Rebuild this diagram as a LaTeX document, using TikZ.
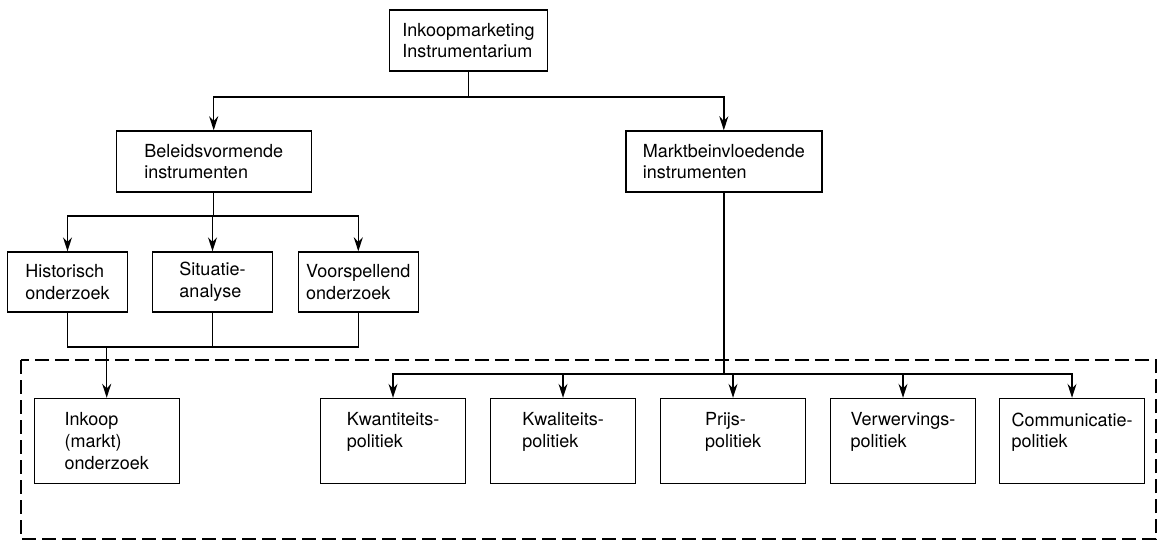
\documentclass[tikz,border=0pt]{standalone}
\usepackage{fontspec}
\setmainfont{TeX Gyre Heros}
\usepackage{tikz}
\usetikzlibrary{arrows.meta, calc, positioning}

\tikzset{
  box/.style={draw, line width=1.4pt, align=left, inner sep=0pt, minimum height=61,
    font=\fontsize{18}{21.7}\selectfont},
  sub/.style={box, minimum width=120, minimum height=60},
  pol/.style={box, minimum width=145, minimum height=85},
  ln/.style={line width=1.4pt},
  arr/.style={line width=1.4pt, -{Stealth[length=14pt,width=9pt]}},
  frame/.style={line width=1.4pt, dash pattern=on 14pt off 6pt}
}

\begin{document}
\begin{tikzpicture}[x=1pt, y=-1pt]
\useasboundingbox (0,0) rectangle (1159,541);
% top of the tree
\node[box, minimum width=158] (top) at (468.5,40.5) {Inkoopmarketing\\Instrumentarium};
\node[box, minimum width=195] (beleid) at (213.7,161.5) {Beleidsvormende\\instrumenten};
\node[box, minimum width=196] (markt) at (723.8,161.5) {Marktbeinvloedende\\instrumenten};
\coordinate (j1) at (468.5,97);
\draw[ln] (top) -- (j1);
\draw[arr] (j1) -| (beleid);
\draw[arr] (j1) -| (markt);
% policy forming instruments
\node[sub, minimum width=120] (hist) at (67.5,282) {Historisch\\onderzoek};
\node[sub] (sit) at (212.5,282) {Situatie-\\analyse};
\node[sub] (voor) at (358.3,282) {Voorspellend\\onderzoek};
\coordinate (j2) at (213.7,216);
\draw[ln] (beleid) -- (j2);
\foreach \n in {hist,sit,voor}
  \draw[arr] (j2) -| (\n);
% dashed frame
\draw[frame] (21,360) rectangle (1156,539);
% market research
\node[pol] (inkoop) at (106.7,441) {Inkoop\\(markt)\\onderzoek};
\coordinate (j3) at (106.7,347);
\draw[ln] (hist.south) |- (j3) -| (voor.south);
\draw[ln] (sit.south) -- (sit.south |- j3);
\draw[arr] (j3) -- (inkoop);
% market influencing instruments
\node[pol] (kwant) at (393,441) {Kwantiteits-\\politiek\\\mbox{}};
\node[pol] (kwal) at (563,441) {Kwaliteits-\\politiek\\\mbox{}};
\node[pol] (prijs) at (733,441) {Prijs-\\politiek\\\mbox{}};
\node[pol] (verw) at (903,441) {Verwervings-\\politiek\\\mbox{}};
\node[pol] (comm) at (1072,441) {Communicatie-\\politiek\\\mbox{}};
\coordinate (j4) at (723.8,374);
\draw[ln] (markt) -- (j4);
\foreach \n in {kwant,kwal,prijs,verw,comm}
  \draw[arr] (j4) -| (\n);
\end{tikzpicture}
\end{document}
